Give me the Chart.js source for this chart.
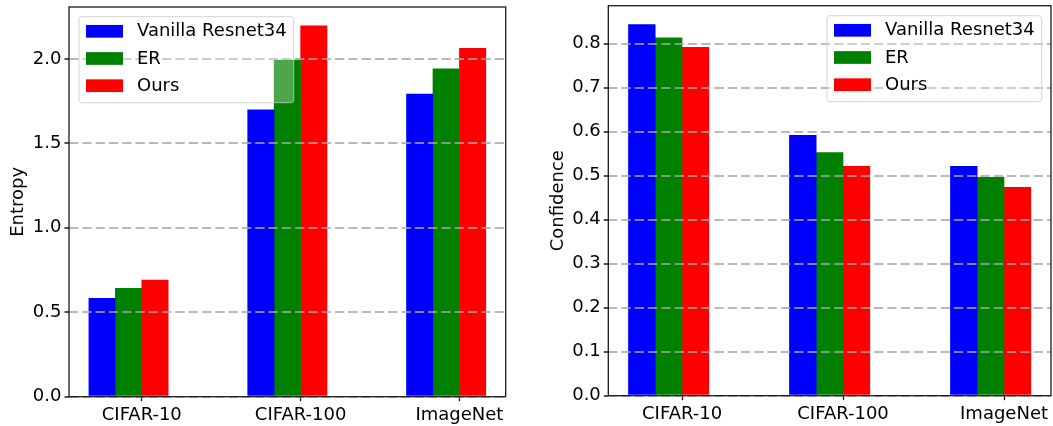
<!DOCTYPE html>
<html><head><meta charset="utf-8">
<script src="https://cdn.jsdelivr.net/npm/chart.js@4"></script>
<style>
html,body{margin:0;padding:0;background:#fff;overflow:hidden}
#wrap{position:relative;width:1053px;height:426px;background:#fff}
#c1{position:absolute;left:0;top:0}
#c2{position:absolute;left:530px;top:0}
</style></head><body>
<div id="wrap"><canvas id="c1" width="530" height="426"></canvas><canvas id="c2" width="523" height="426"></canvas></div>
<script>
// ---- data ----
const categories = ['CIFAR-10', 'CIFAR-100', 'ImageNet'];
const seriesNames = ['Vanilla Resnet34', 'ER', 'Ours'];
const seriesColors = ['#0000ff', '#008000', '#ff0000'];
const entropyVanilla = [0.585, 1.700, 1.793];
const entropyER      = [0.644, 1.995, 1.943];
const entropyOurs    = [0.692, 2.197, 2.065];
const confVanilla = [0.844, 0.592, 0.522];
const confER      = [0.814, 0.553, 0.497];
const confOurs    = [0.792, 0.522, 0.474];
const entropyTicks = [0.0, 0.5, 1.0, 1.5, 2.0];
const confTicks = [0.0, 0.1, 0.2, 0.3, 0.4, 0.5, 0.6, 0.7, 0.8];
const entropyMax = 2.307;
const confMax = 0.886;

// ---- styling ----
const FONT = 'DejaVu Sans';
const FS = 18;
const xMin = -0.375, xMax = 2.375;
const tickOffset = 1 / 12;
const gridColor = 'rgba(165,165,165,0.78)';
const spineColor = '#1a1a1a';

const framePlugin = {
  id: 'frame',
  afterDraw(chart) {
    const {ctx, chartArea: a} = chart;
    ctx.save();
    ctx.strokeStyle = spineColor;
    ctx.lineWidth = 1.3;
    ctx.strokeRect(a.left, a.top, a.right - a.left, a.bottom - a.top);
    ctx.restore();
  }
};

const legendPlugin = {
  id: 'boxLegend',
  afterDraw(chart, args, opts) {
    const {ctx, chartArea: a} = chart;
    ctx.save();
    ctx.font = FS + 'px "' + FONT + '"';
    const textW = Math.max(...seriesNames.map(n => ctx.measureText(n).width));
    const w = 58 + textW + 7;
    const h = 86;
    const x = opts.side === 'left' ? a.left + opts.dx : a.right - opts.dx - w;
    const y = a.top + opts.dy;
    ctx.beginPath();
    ctx.roundRect(x, y, w, h, 3);
    ctx.fillStyle = 'rgba(255,255,255,0.3)';
    ctx.fill();
    ctx.strokeStyle = 'rgba(200,200,200,0.8)';
    ctx.lineWidth = 1;
    ctx.stroke();
    seriesNames.forEach((n, k) => {
      const cy = y + 14.6 + k * 27.2;
      ctx.fillStyle = seriesColors[k];
      ctx.fillRect(x + 7, cy - 6.35, 37, 12.7);
      ctx.fillStyle = '#000';
      ctx.textBaseline = 'middle';
      ctx.textAlign = 'left';
      ctx.fillText(n, x + 58, cy + 0.5);
    });
    ctx.restore();
  }
};

function makeChart(canvas, series, yTicks, yMax, yTitle, geom) {
  return new Chart(canvas, {
    type: 'bar',
    data: {
      datasets: series.map((vals, k) => ({
        label: seriesNames[k],
        data: vals.map((v, i) => ({x: i, y: v})),
        backgroundColor: seriesColors[k],
        borderWidth: 0,
        xAxisID: 'x',
        yAxisID: 'y',
        categoryPercentage: 0.5,
        barPercentage: 1.02
      }))
    },
    options: {
      responsive: false,
      animation: false,
      devicePixelRatio: 1,
      layout: {padding: geom.padding},
      plugins: {
        legend: {display: false},
        tooltip: {enabled: false},
        boxLegend: geom.legend
      },
      scales: {
        x: {
          type: 'linear', display: false, min: xMin, max: xMax, offset: false,
          grid: {offset: false},
          afterBuildTicks: s => { s.ticks = categories.map((c, i) => ({value: i})); }
        },
        xt: {
          type: 'linear', position: 'bottom', min: xMin, max: xMax, offset: false,
          afterBuildTicks: s => { s.ticks = categories.map((c, i) => ({value: i + tickOffset})); },
          afterFit: s => { s.height = geom.xHeight; s.paddingLeft = 0; s.paddingRight = 0; },
          ticks: {
            font: {family: FONT, size: FS}, color: '#000', padding: 3,
            autoSkip: false, maxRotation: 0, minRotation: 0,
            callback: (v, i) => categories[i]
          },
          grid: {offset: false, drawOnChartArea: false, drawTicks: true, tickLength: 4.5,
                 tickColor: spineColor, tickWidth: 1.3, color: spineColor},
          border: {display: false}
        },
        y: {
          min: 0, max: yMax,
          afterBuildTicks: s => { s.ticks = yTicks.map(v => ({value: v})); },
          afterFit: s => { s.width = geom.yWidth; s.paddingTop = 0; s.paddingBottom = 0; },
          ticks: {font: {family: FONT, size: FS}, color: '#000', padding: 3,
                  callback: v => Number(v).toFixed(1)},
          grid: {z: 1, color: gridColor, lineWidth: 2,
                 drawTicks: true, tickLength: 4.5, tickColor: spineColor, tickWidth: 1.3,
                 tickBorderDash: [1, 0]},
          border: {display: false, dash: [9.3, 4]},
          title: {display: true, text: yTitle, color: '#000',
                  font: {family: FONT, size: FS}, padding: {top: geom.titlePad, bottom: 0}}
        }
      }
    },
    plugins: [framePlugin, legendPlugin]
  });
}

makeChart(document.getElementById('c1'),
  [entropyVanilla, entropyER, entropyOurs], entropyTicks, entropyMax, 'Entropy',
  {padding: {left: 0, top: 7, right: 24.3, bottom: 0}, xHeight: 29.3, yWidth: 69, titlePad: 7.5,
   legend: {side: 'left', dx: 10, dy: 9.7}});

makeChart(document.getElementById('c2'),
  [confVanilla, confER, confOurs], confTicks, confMax, 'Confidence',
  {padding: {left: 0, top: 5.7, right: 2, bottom: 0}, xHeight: 30.3, yWidth: 78.3, titlePad: 17.5,
   legend: {side: 'right', dx: 9.3, dy: 10}});
</script>
</body></html>
